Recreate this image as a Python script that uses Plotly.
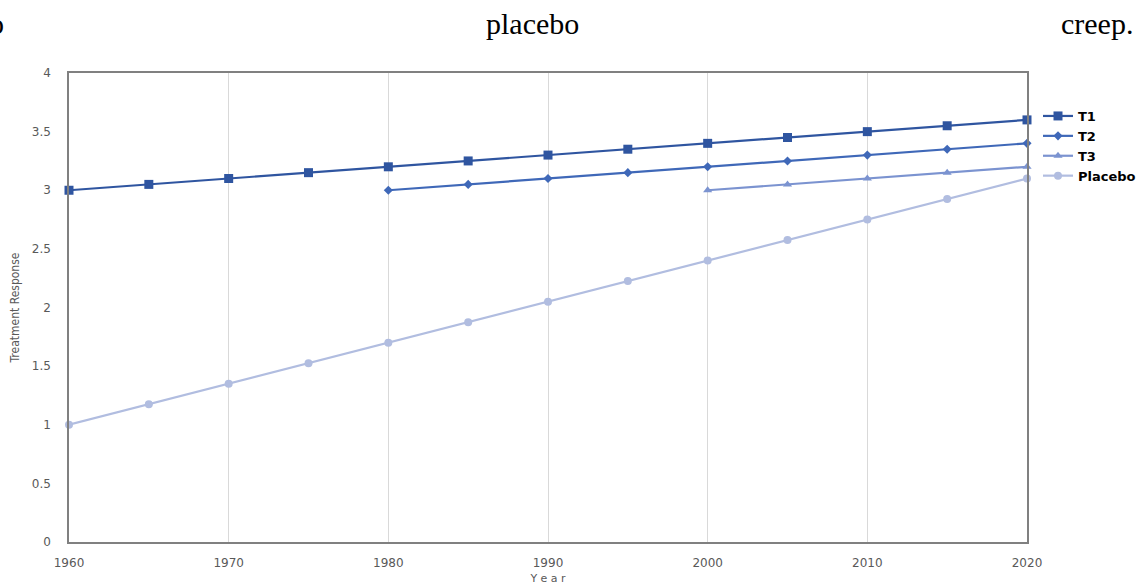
import plotly.graph_objects as go

years_t1 = [1960, 1965, 1970, 1975, 1980, 1985, 1990, 1995, 2000, 2005, 2010, 2015, 2020]
t1 = [3.0, 3.05, 3.1, 3.15, 3.2, 3.25, 3.3, 3.35, 3.4, 3.45, 3.5, 3.55, 3.6]
years_t2 = [1980, 1985, 1990, 1995, 2000, 2005, 2010, 2015, 2020]
t2 = [3.0, 3.05, 3.1, 3.15, 3.2, 3.25, 3.3, 3.35, 3.4]
years_t3 = [2000, 2005, 2010, 2015, 2020]
t3 = [3.0, 3.05, 3.1, 3.15, 3.2]
years_pl = [1960, 1965, 1970, 1975, 1980, 1985, 1990, 1995, 2000, 2005, 2010, 2015, 2020]
placebo = [1.0, 1.175, 1.35, 1.525, 1.7, 1.875, 2.05, 2.225, 2.4, 2.575, 2.75, 2.925, 3.1]

x_ticks = [1960, 1970, 1980, 1990, 2000, 2010, 2020]
y_ticks = [0, 0.5, 1, 1.5, 2, 2.5, 3, 3.5, 4]

fig = go.Figure()
fig.add_trace(go.Scatter(x=years_t1, y=t1, name="T1", mode="lines+markers",
                         line=dict(color="#2F55A0", width=2.2),
                         marker=dict(symbol="square", size=9, color="#2F55A0"), cliponaxis=False))
fig.add_trace(go.Scatter(x=years_t2, y=t2, name="T2", mode="lines+markers",
                         line=dict(color="#3F68B8", width=2.2),
                         marker=dict(symbol="diamond", size=7, color="#3F68B8"), cliponaxis=False))
fig.add_trace(go.Scatter(x=years_t3, y=t3, name="T3", mode="lines+markers",
                         line=dict(color="#7B93D0", width=2.2),
                         marker=dict(symbol="triangle-up", size=8, color="#7B93D0"), cliponaxis=False))
fig.add_trace(go.Scatter(x=years_pl, y=placebo, name="Placebo", mode="lines+markers",
                         line=dict(color="#B1BDE0", width=2.2),
                         marker=dict(symbol="circle", size=8, color="#B1BDE0"), cliponaxis=False))

tickfont = dict(family="Verdana, DejaVu Sans", size=12, color="#595959")
fig.update_layout(
    width=1144, height=585,
    margin=dict(l=69, r=117, t=73, b=43),
    paper_bgcolor="white", plot_bgcolor="white",
    xaxis=dict(range=[1960, 2020], tickvals=x_ticks, ticks="", showgrid=True,
               gridcolor="#D9D9D9", gridwidth=1, showline=True, mirror=True,
               linecolor="#808080", linewidth=1.5, zeroline=False, tickfont=tickfont,
               ticklabelstandoff=9, automargin=False,
               title=dict(text="Y e a r", font=dict(family="Verdana, DejaVu Sans", size=11, color="#595959"),
                          standoff=12)),
    yaxis=dict(range=[0, 4], tickvals=y_ticks, ticktext=[str(v) if v % 1 else str(int(v)) for v in y_ticks],
               ticks="", showgrid=False, showline=True, mirror=True,
               linecolor="#808080", linewidth=1.5, zeroline=False, tickfont=tickfont,
               ticklabelstandoff=14, automargin=False,
               title=dict(text="Treatment Response",
                          font=dict(family="DejaVu Sans Condensed, Liberation Sans Narrow, DejaVu Sans", size=12, color="#595959"),
                          standoff=10)),
    legend=dict(xref="container", yref="container", x=1038 / 1144, xanchor="left",
                y=1 - 101 / 585, yanchor="top",
                font=dict(family="Verdana, DejaVu Sans", size=13, color="black", weight="bold"),
                bgcolor="rgba(0,0,0,0)", itemwidth=30, tracegroupgap=0),
    showlegend=True,
)

serif = dict(family="Liberation Serif, Times New Roman, serif", size=30, color="black")
for txt, px in [("o", -4), ("placebo", 532), ("creep.", 1097)]:
    fig.add_annotation(text=txt, xref="paper", yref="paper", x=(px - 69) / 958, y=1 + (73 - 24) / 469,
                       showarrow=False, font=serif, xanchor="center", yanchor="middle")

fig.write_html("out.html")
